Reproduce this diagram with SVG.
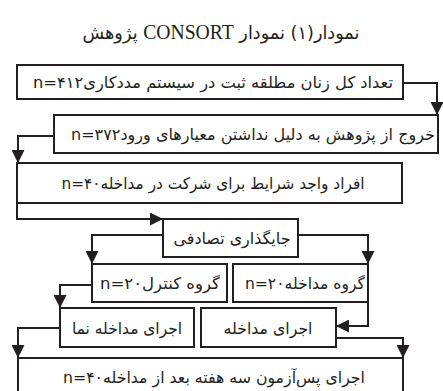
<svg xmlns="http://www.w3.org/2000/svg" width="443" height="391" viewBox="0 0 443 391">
<style>
.box{fill:#ffffff;stroke:#231f20;stroke-width:2}
.t{font-family:"DejaVu Sans","Noto Sans",sans-serif;font-size:16px;fill:#231f20;text-anchor:middle;dominant-baseline:central;direction:rtl}
.c{fill:none;stroke:#231f20;stroke-width:2}
.title{font-family:"DejaVu Sans","Noto Sans",sans-serif;font-size:18px;fill:#231f20;text-anchor:middle;direction:rtl}
</style>
<defs>
<marker id="ah" markerUnits="userSpaceOnUse" markerWidth="13" markerHeight="13" refX="13" refY="6.5" orient="auto">
<path d="M0,0 L13,6.5 L0,13 z" fill="#231f20"/>
</marker>
</defs>
<rect width="443" height="391" fill="#ffffff"/>
<text class="title" x="221" y="39" direction="rtl" textLength="277" lengthAdjust="spacingAndGlyphs">نمودار(۱) نمودار <tspan font-family="Liberation Serif" font-size="20">CONSORT</tspan> پژوهش</text>

<g id="connectors">
<path class="c" d="M403,83 H437 V115" marker-end="url(#ah)"/>
<path class="c" d="M54,136 H18 V163" marker-end="url(#ah)"/>
<path class="c" d="M17,203 V219 H163" marker-end="url(#ah)"/>
<path class="c" d="M163,235 H92 V264" marker-end="url(#ah)"/>
<path class="c" d="M298,235 H368 V264" marker-end="url(#ah)"/>
<path class="c" d="M92,285 H60 V308" marker-end="url(#ah)"/>
<path class="c" d="M368,302 V326 H336" marker-end="url(#ah)"/>
<path class="c" d="M60,328 H18 V358" marker-end="url(#ah)"/>
<path class="c" d="M336,338 H403 V358" marker-end="url(#ah)"/>
</g>

<g id="n1"><rect class="box" x="17" y="65" width="386" height="34"/>
<text class="t" x="213" y="82" direction="rtl" textLength="360" lengthAdjust="spacingAndGlyphs">تعداد کل زنان مطلقه ثبت در سیستم مددکاریn=۴۱۲</text></g>
<g id="n2"><rect class="box" x="54" y="115" width="384" height="38"/>
<text class="t" x="253" y="134" direction="rtl" textLength="364" lengthAdjust="spacingAndGlyphs">خروج از پژوهش به دلیل نداشتن معیارهای ورودn=۳۷۲</text></g>
<g id="n3"><rect class="box" x="17" y="163" width="385" height="40"/>
<text class="t" x="213" y="183" direction="rtl" textLength="303" lengthAdjust="spacingAndGlyphs">افراد واجد شرایط برای شرکت در مداخلهn=۴۰</text></g>
<g id="n4"><rect class="box" x="163" y="219" width="135" height="38"/>
<text class="t" x="232" y="238" direction="rtl" textLength="117" lengthAdjust="spacingAndGlyphs">جایگذاری تصادفی</text></g>
<g id="n5"><rect class="box" x="92" y="264" width="135" height="38"/>
<text class="t" x="160" y="283" direction="rtl" textLength="120" lengthAdjust="spacingAndGlyphs">گروه  کنترلn=۲۰</text></g>
<g id="n6"><rect class="box" x="233" y="264" width="135" height="38"/>
<text class="t" x="305" y="283" direction="rtl" textLength="120" lengthAdjust="spacingAndGlyphs">گروه مداخلهn=۲۰</text></g>
<g id="n7"><rect class="box" x="60" y="308" width="134" height="39"/>
<text class="t" x="127" y="328" direction="rtl" textLength="110" lengthAdjust="spacingAndGlyphs">اجرای مداخله نما</text></g>
<g id="n8"><rect class="box" x="201" y="308" width="135" height="39"/>
<text class="t" x="268" y="328" direction="rtl" textLength="89" lengthAdjust="spacingAndGlyphs">اجرای مداخله</text></g>
<g id="n9"><rect class="box" x="18" y="358" width="385" height="45"/>
<text class="t" x="214" y="377" direction="rtl" textLength="302" lengthAdjust="spacingAndGlyphs">اجرای پس‌آزمون سه هفته بعد از مداخلهn=۴۰</text></g>
</svg>
